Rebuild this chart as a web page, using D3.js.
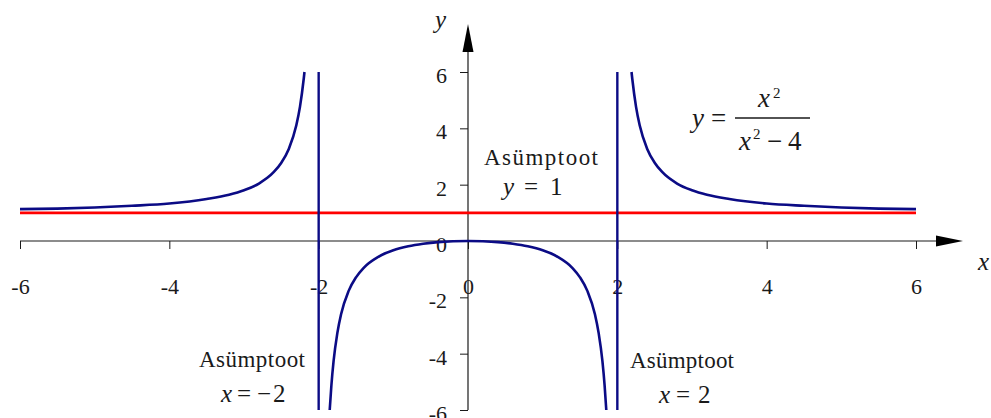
<!DOCTYPE html>
<html>
<head>
<meta charset="utf-8">
<script src="https://cdn.jsdelivr.net/npm/d3@7"></script>
<style>
  body { margin: 0; background: #fff; }
</style>
</head>
<body>
<div id="chart"></div>
<script>
// tick labels
const xTicks = [-6, -4, -2, 0, 2, 4, 6];
const yTicks = [-6, -4, -2, 0, 2, 4, 6];

// y = x^2 / (x^2 - 4), one array pair per branch
const leftX  = [-6, -5.5, -5, -4.5, -4, -3.5, -3.2, -3, -2.8, -2.6, -2.5, -2.4, -2.3, -2.25, -2.2, -2.19];
const leftY  = [1.13, 1.15, 1.19, 1.25, 1.33, 1.49, 1.64, 1.8, 2.04, 2.45, 2.78, 3.27, 4.1, 4.77, 5.76, 6];
const midX   = [-1.852, -1.83, -1.8, -1.75, -1.7, -1.6, -1.5, -1.4, -1.2, -1, -0.8, -0.6, -0.4, -0.2, 0,
                0.2, 0.4, 0.6, 0.8, 1, 1.2, 1.4, 1.5, 1.6, 1.7, 1.75, 1.8, 1.83, 1.852];
const midY   = [-6, -5.14, -4.26, -3.27, -2.6, -1.78, -1.29, -0.96, -0.56, -0.33, -0.19, -0.1, -0.04, -0.01, 0,
                -0.01, -0.04, -0.1, -0.19, -0.33, -0.56, -0.96, -1.29, -1.78, -2.6, -3.27, -4.26, -5.14, -6];
const rightX = [2.19, 2.2, 2.25, 2.3, 2.4, 2.5, 2.6, 2.8, 3, 3.2, 3.5, 4, 4.5, 5, 5.5, 6];
const rightY = [6, 5.76, 4.77, 4.1, 3.27, 2.78, 2.45, 2.04, 1.8, 1.64, 1.49, 1.33, 1.25, 1.19, 1.15, 1.13];

// asymptotes
const vertAsymptotes = [-2, 2];
const horizAsymptote = 1;

const width = 991, height = 418;
const serif = "'Liberation Serif', 'Times New Roman', serif";

const svg = d3.select("#chart").append("svg")
  .attr("width", width)
  .attr("height", height)
  .attr("font-family", serif);

const x = d3.scaleLinear().domain([-6, 6]).range([20, 916]);
const y = d3.scaleLinear().domain([-6, 6]).range([410, 72]);

const axisColor = "#1a1a1a";
const navy = "#0b0b85";

// x axis
const xAxis = svg.append("g")
  .attr("transform", `translate(0,${y(0)})`)
  .call(d3.axisBottom(x).tickValues(xTicks).tickSize(8).tickSizeOuter(0).tickPadding(29));
xAxis.attr("font-family", serif).attr("font-size", 22);
xAxis.select(".domain").remove();
xAxis.selectAll("line").attr("stroke", axisColor);
xAxis.selectAll("text").attr("fill", axisColor)
  .text(d => d < 0 ? "-" + Math.abs(d) : d);

svg.append("line")
  .attr("x1", x(-6)).attr("x2", x(6) + 22)
  .attr("y1", y(0)).attr("y2", y(0))
  .attr("stroke", axisColor).attr("stroke-width", 1.2);
svg.append("path")
  .attr("d", `M${x(6) + 20},${y(0) - 5.5} L${x(6) + 47},${y(0)} L${x(6) + 20},${y(0) + 5.5} Z`)
  .attr("fill", "#000");

// y axis
const yAxis = svg.append("g")
  .attr("transform", `translate(${x(0)},0)`)
  .call(d3.axisLeft(y).tickValues(yTicks).tickSize(8).tickSizeOuter(0).tickPadding(13));
yAxis.attr("font-family", serif).attr("font-size", 22);
yAxis.select(".domain").remove();
yAxis.selectAll("line").attr("stroke", axisColor);
yAxis.selectAll("text").attr("fill", axisColor)
  .attr("dy", "0.47em")
  .text(d => d < 0 ? "-" + Math.abs(d) : d);

svg.append("line")
  .attr("x1", x(0)).attr("x2", x(0))
  .attr("y1", y(-6)).attr("y2", y(6) - 22)
  .attr("stroke", axisColor).attr("stroke-width", 1.2);
svg.append("path")
  .attr("d", `M${x(0) - 5.5},${y(6) - 20} L${x(0)},${y(6) - 48} L${x(0) + 5.5},${y(6) - 20} Z`)
  .attr("fill", "#000");

svg.append("text").attr("x", x(0) - 33).attr("y", 28)
  .attr("font-size", 25).attr("font-style", "italic").attr("fill", axisColor).text("y");
svg.append("text").attr("x", x(6) + 62).attr("y", 270)
  .attr("font-size", 25).attr("font-style", "italic").attr("fill", axisColor).text("x");

// horizontal asymptote y = 1
svg.append("line")
  .attr("x1", x(-6)).attr("x2", x(6))
  .attr("y1", y(horizAsymptote)).attr("y2", y(horizAsymptote))
  .attr("stroke", "#ff0000").attr("stroke-width", 2.6);

// vertical asymptotes
svg.selectAll(".vasym")
  .data(vertAsymptotes)
  .join("line")
  .attr("class", "vasym")
  .attr("x1", d => x(d)).attr("x2", d => x(d))
  .attr("y1", y(6)).attr("y2", y(-6))
  .attr("stroke", navy).attr("stroke-width", 2.4);

// curve branches
const branches = [
  d3.zip(leftX, leftY),
  d3.zip(midX, midY),
  d3.zip(rightX, rightY)
];
const line = d3.line()
  .x(d => x(d[0]))
  .y(d => y(d[1]))
  .curve(d3.curveMonotoneX);

svg.selectAll(".branch")
  .data(branches)
  .join("path")
  .attr("class", "branch")
  .attr("d", line)
  .attr("fill", "none")
  .attr("stroke", navy)
  .attr("stroke-width", 2.6);

// annotations
function mathText(parts, baseline, size) {
  parts.forEach(p => {
    svg.append("text")
      .attr("x", p.x).attr("y", baseline + (p.dy || 0))
      .attr("font-size", p.size || size)
      .attr("font-style", p.italic ? "italic" : null)
      .attr("fill", axisColor)
      .text(p.t);
  });
}

svg.append("text").attr("x", 541).attr("y", 165).attr("text-anchor", "middle")
  .attr("font-size", 23).attr("fill", axisColor)
  .attr("textLength", 114).text("Asümptoot");
mathText([
  { t: "y", x: 503, italic: true },
  { t: "=", x: 524 },
  { t: "1", x: 550 }
], 195, 25);

svg.append("text").attr("x", 252).attr("y", 367).attr("text-anchor", "middle")
  .attr("font-size", 23).attr("fill", axisColor)
  .attr("textLength", 106).text("Asümptoot");
mathText([
  { t: "x", x: 221, italic: true },
  { t: "=", x: 237 },
  { t: "\u2212", x: 257 },
  { t: "2", x: 273 }
], 402, 25);

svg.append("text").attr("x", 682).attr("y", 368).attr("text-anchor", "middle")
  .attr("font-size", 23).attr("fill", axisColor)
  .attr("textLength", 104).text("Asümptoot");
mathText([
  { t: "x", x: 659, italic: true },
  { t: "=", x: 676 },
  { t: "2", x: 698 }
], 403, 25);

// formula y = x^2 / (x^2 - 4)
mathText([
  { t: "y", x: 692, italic: true },
  { t: "=", x: 711 },
  { t: "x", x: 758, dy: -20, italic: true },
  { t: "2", x: 773, dy: -29, size: 15 },
  { t: "x", x: 739, dy: 23, italic: true },
  { t: "2", x: 753, dy: 12, size: 15 },
  { t: "\u2212", x: 767, dy: 23 },
  { t: "4", x: 788, dy: 23 }
], 127, 27);
svg.append("line")
  .attr("x1", 735).attr("x2", 810)
  .attr("y1", 118).attr("y2", 118)
  .attr("stroke", "#1a1a1a").attr("stroke-width", 1.3);
</script>
</body>
</html>
